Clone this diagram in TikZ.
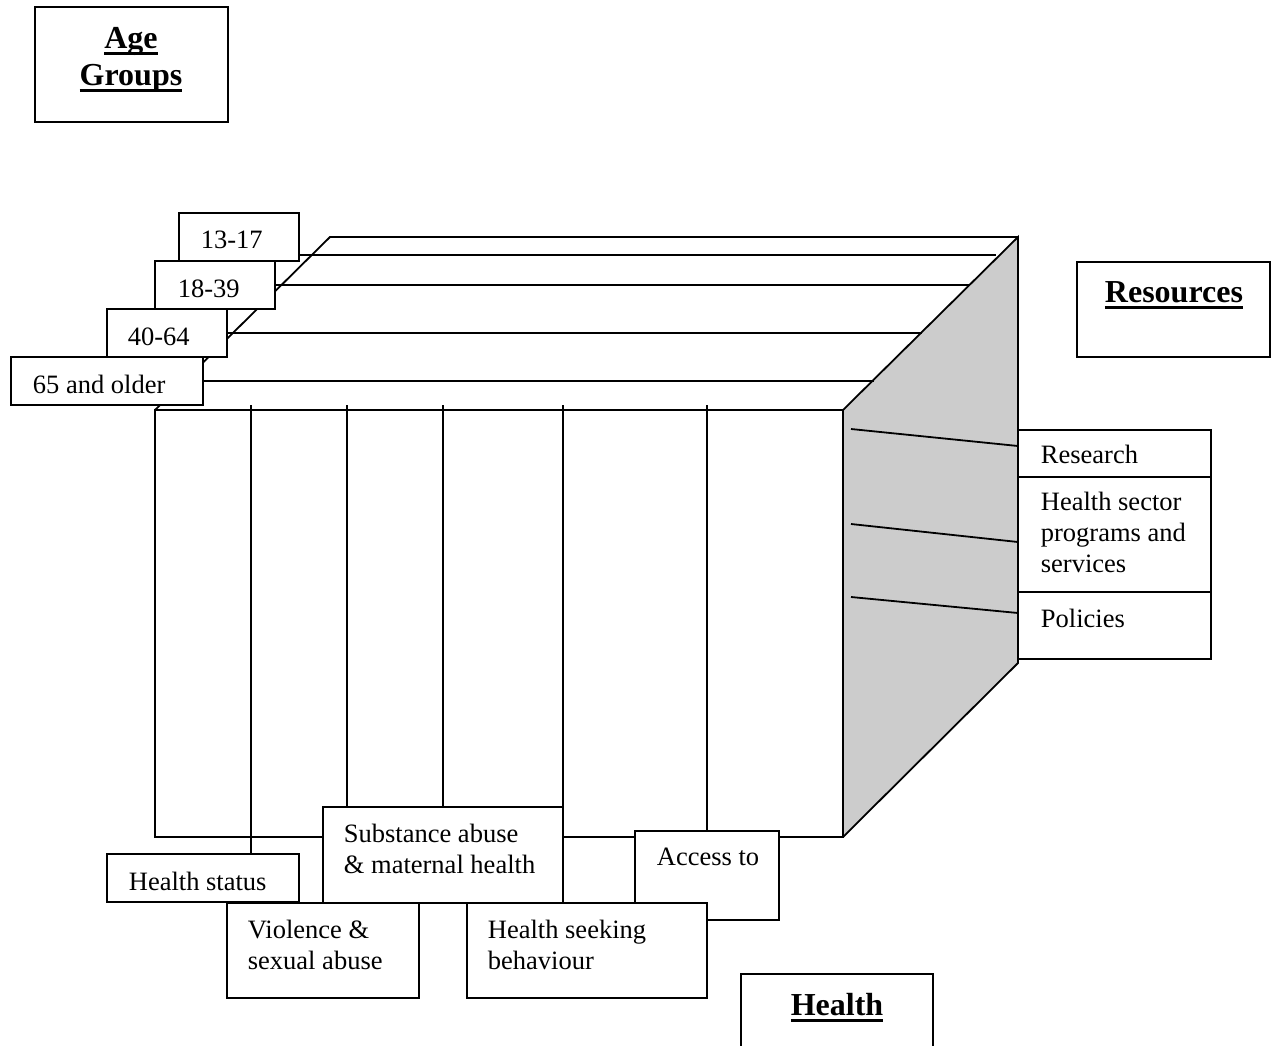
\documentclass[tikz,border=0pt]{standalone}
\usepackage{fontspec}
\setmainfont{Liberation Serif}
\newcommand\mylines[1]{\begin{tabular}[t]{@{}l@{}}#1\end{tabular}}
\newcommand\mylinesc[1]{\begin{tabular}[t]{@{}c@{}}#1\end{tabular}}
\newcommand\myul[1]{\setbox0=\hbox{#1}\rlap{\rule[-0.23em]{\wd0}{0.105em}}\box0}
\definecolor{facegray}{RGB}{204,204,204}
\tikzset{
  every path/.style={line width=1.8pt},
  box/.style={draw=black, fill=white, line width=1.8pt, rectangle, inner sep=0pt, outer sep=0pt, anchor=north west},
  txt/.style={inner sep=0pt, anchor=base west, font=\fontsize{26.5}{31}\selectfont},
  ttl/.style={inner sep=0pt, anchor=base, font=\fontsize{32}{37}\selectfont\bfseries},
}
\begin{document}
\begin{tikzpicture}[x=1pt,y=-1pt]
\useasboundingbox (0,0) rectangle (1272,1045);
% cube corners
\coordinate (F1) at (155,410);
\coordinate (F2) at (843,410);
\coordinate (F3) at (843,837);
\coordinate (F4) at (155,837);
\coordinate (B1) at (330,237);
\coordinate (B2) at (1018,237);
\coordinate (B3) at (1018,663);
\fill[facegray] (F2) -- (B2) -- (B3) -- (F3) -- cycle;
\draw (F2) -- (B2) -- (B3) -- (F3);
\draw (F1) -- (B1) -- (B2);
\draw (F1) rectangle (F3);
% line ends on top face
\coordinate (e1) at (996,255);
\coordinate (e2) at (970,285);
\coordinate (e3) at (922,333);
\coordinate (e4) at (874,381);
% tops of front face lines
\coordinate (v1) at (251,405);
\coordinate (v2) at (347,405);
\coordinate (v3) at (443,405);
\coordinate (v4) at (563,405);
\coordinate (v5) at (707,405);
% starts of side face lines
\coordinate (s1) at (851,429);
\coordinate (s2) at (851,524);
\coordinate (s3) at (851,597);

% title boxes
\node[box, minimum width=193, minimum height=115] (ag) at (35,7) {};
\node[ttl] (agt) at (131,48) {\mylinesc{\myul{Age}\\\myul{Groups}}};
\node[box, minimum width=193, minimum height=95] (rs) at (1077,262) {};
\node[ttl] (rst) at (1174,302) {\myul{Resources}};
\node[box, minimum width=192, minimum height=100] (hl) at (741,974) {};
\node[ttl] (hlt) at (837,1015) {\myul{Health}};

% age group boxes
\node[box, minimum width=120, minimum height=48] (a1) at (179,213) {};
\node[txt] (a1t) at (200,248) {13-17};
\node[box, minimum width=120, minimum height=48] (a2) at (155,261) {};
\node[txt] (a2t) at (177,297) {18-39};
\node[box, minimum width=120, minimum height=48] (a3) at (107,309) {};
\node[txt] (a3t) at (127,345) {40-64};
\node[box, minimum width=192, minimum height=48] (a4) at (11,357) {};
\node[txt] (a4t) at (32,393) {65 and older};

\draw (a1.east |- e1) -- (e1);
\draw (a2.east |- e2) -- (e2);
\draw (a3.east |- e3) -- (e3);
\draw (a4.east |- e4) -- (e4);

% resource boxes
\node[box, minimum width=193, minimum height=47] (r1) at (1018,430) {};
\node[txt] (r1t) at (1040,463) {Research};
\node[box, minimum width=193, minimum height=115] (r2) at (1018,477) {};
\node[txt] (r2t) at (1040,510) {\mylines{Health sector\\programs and\\services}};
\node[box, minimum width=193, minimum height=67] (r3) at (1018,592) {};
\node[txt] (r3t) at (1040,627) {Policies};

\draw (s1) -- (r1.west |- 0,446);
\draw (s2) -- (r2.west |- 0,542);
\draw (s3) -- (r3.west |- 0,613);

% health boxes
\node[box, minimum width=192, minimum height=48] (h1) at (107,854) {};
\node[txt] (h1t) at (128,890) {Health status};
\node[box, minimum width=240, minimum height=96] (h2) at (323,807) {};
\node[txt] (h2t) at (343,842) {\mylines{Substance abuse\\\& maternal health}};
\node[box, minimum width=144, minimum height=89] (h5) at (635,831) {};
\node[txt] (h5t) at (656,865) {Access to};
\node[box, minimum width=192, minimum height=95] (h3) at (227,903) {};
\node[txt] (h3t) at (247,938) {\mylines{Violence \&\\sexual abuse}};
\node[box, minimum width=240, minimum height=95] (h4) at (467,903) {};
\node[txt] (h4t) at (487,938) {\mylines{Health seeking\\behaviour}};

\draw (v1) -- (v1 |- h1.north);
\draw (v2) -- (v2 |- h2.north);
\draw (v3) -- (v3 |- h2.north);
\draw (v4) -- (v4 |- h2.north);
\draw (v5) -- (v5 |- h5.north);
\end{tikzpicture}
\end{document}
